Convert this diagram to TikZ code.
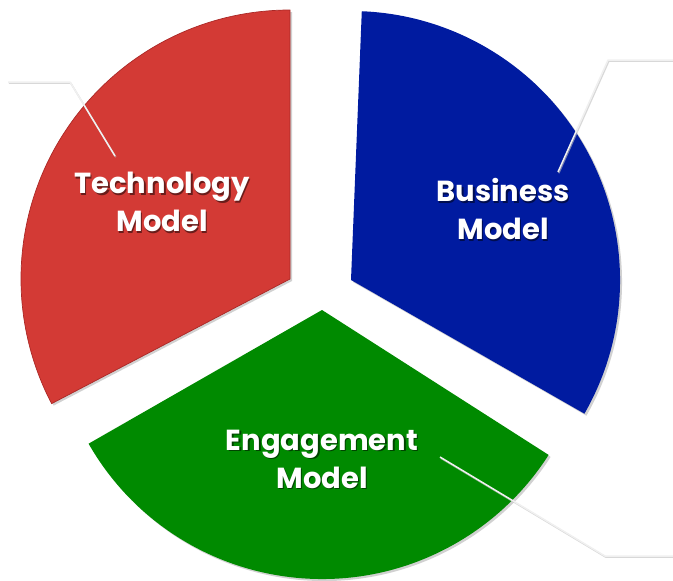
\documentclass[tikz,border=0pt]{standalone}
\usepackage{fontspec}
\setmainfont{Poppins}
\usetikzlibrary{calc}
\definecolor{secred}{RGB}{211,58,53}
\definecolor{secredb}{RGB}{170,40,38}
\definecolor{secblue}{RGB}{0,27,160}
\definecolor{secgreen}{RGB}{0,138,0}
\definecolor{leadc}{RGB}{240,240,240}
\definecolor{leads}{RGB}{190,190,190}
\tikzset{
  lbl/.style={text=white, align=center, font=\fontsize{29}{38}\selectfont\bfseries, inner sep=0pt},
  lblshadow/.style={text=black, opacity=0.5, align=center, font=\fontsize{29}{38}\selectfont\bfseries, inner sep=0pt},
  leader/.style={draw=leadc, line width=1.5pt, line join=round},
  leadershadow/.style={draw=leads, line width=1.5pt, line join=round, opacity=0.6},
  secshadow/.style={fill=black, opacity=0.18},
}
\begin{document}
\begin{tikzpicture}[x=1pt,y=1pt]
\useasboundingbox (0,0) rectangle (673,-581);
% apexes
\coordinate (rA) at (290,-279);
\coordinate (bA) at (351,-280);
\coordinate (gA) at (322,-310);
% shadows
\fill[secshadow] ($(rA)+(2,-2)$) -- ++(90:269) arc[start angle=90, end angle=207.6, radius=269] -- cycle;
\fill[secshadow] ($(bA)+(2,-2)$) -- ++(-29.8:269) arc[start angle=-29.8, end angle=87.7, radius=269] -- cycle;
\fill[secshadow] ($(gA)+(2,-2)$) -- ++(209.8:269) arc[start angle=209.8, end angle=327.4, radius=269] -- cycle;
% sectors
\filldraw[fill=secred, draw=secredb, line width=0.7pt] (rA) -- ++(90:269) arc[start angle=90, end angle=207.6, radius=269] -- cycle;
\fill[secblue] (bA) -- ++(-29.8:269) arc[start angle=-29.8, end angle=87.7, radius=269] -- cycle;
\fill[secgreen] (gA) -- ++(209.8:269) arc[start angle=209.8, end angle=327.4, radius=269] -- cycle;
% leader coordinates
\coordinate (t0) at (8,-82);
\coordinate (t1) at (70,-82);
\coordinate (t2) at (115,-156);
\coordinate (b0) at (558,-172);
\coordinate (b1) at (608,-60);
\coordinate (b2) at (673,-60);
\coordinate (e0) at (440,-457);
\coordinate (e1) at (605,-556);
\coordinate (e2) at (673,-556);
\draw[leadershadow] ($(t0)+(0.8,-1.2)$) -- ($(t1)+(0.8,-1.2)$) -- ($(t2)+(0.8,-1.2)$);
\draw[leadershadow] ($(b0)+(0.8,-1.2)$) -- ($(b1)+(0.8,-1.2)$) -- ($(b2)+(0.8,-1.2)$);
\draw[leadershadow] ($(e0)+(0.8,-1.2)$) -- ($(e1)+(0.8,-1.2)$) -- ($(e2)+(0.8,-1.2)$);
\draw[leader] (t0) -- (t1) -- (t2);
\draw[leader] (b0) -- (b1) -- (b2);
\draw[leader] (e0) -- (e1) -- (e2);
% labels
\node[lblshadow] at (163.5,-203.5) {Technology\\Model};
\node[lbl] (tech) at (162,-202) {Technology\\Model};
\node[lblshadow] at (504.5,-210.5) {Business\\Model};
\node[lbl] (bus) at (503,-209) {Business\\Model};
\node[lblshadow] at (323.5,-460.5) {Engagement\\Model};
\node[lbl] (eng) at (322,-459) {Engagement\\Model};
\end{tikzpicture}
\end{document}
